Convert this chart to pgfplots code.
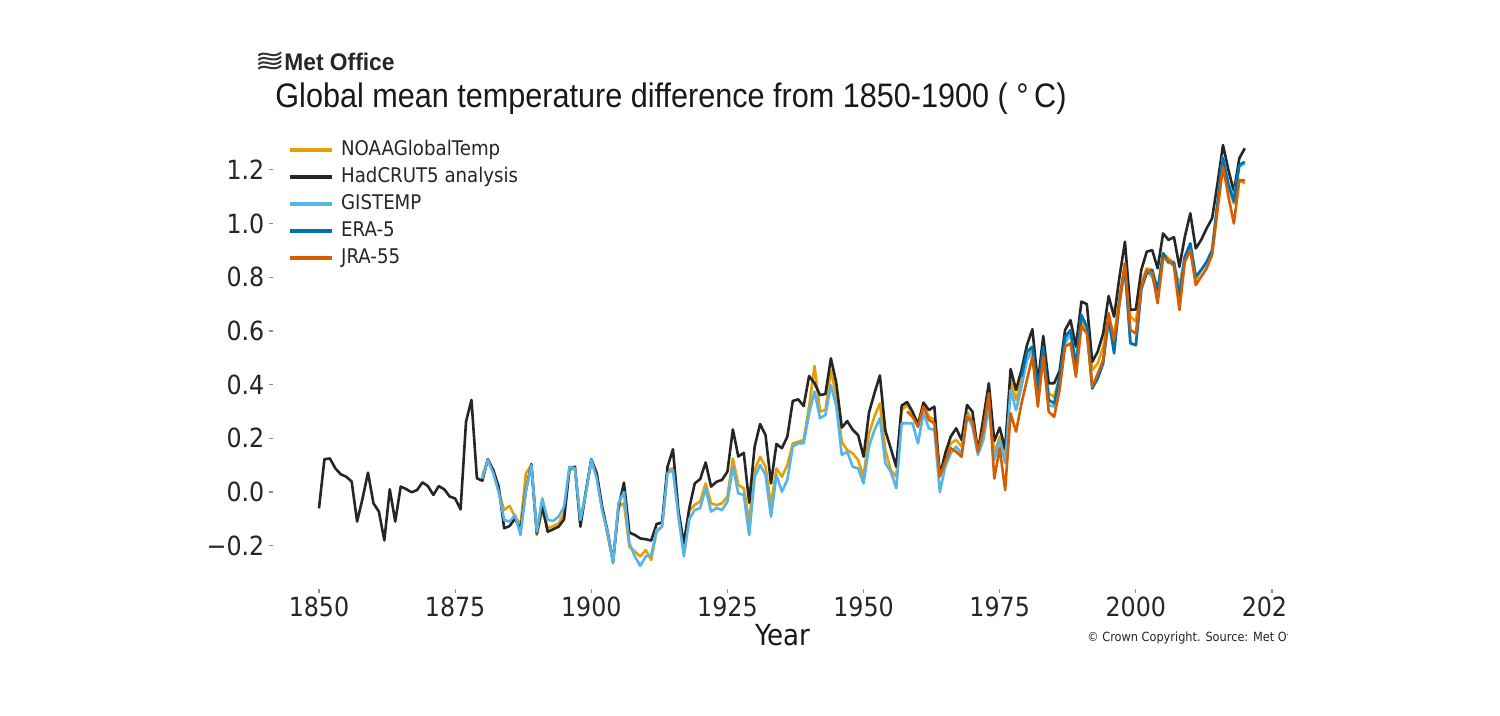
\documentclass[border=0pt]{standalone}
\usepackage{pgfplots}
\pgfplotsset{compat=1.18}
\usepackage{fontspec}
\setmainfont{DejaVu Sans}[FakeStretch=0.9]
\newfontfamily\titlefont{Liberation Sans}[FakeStretch=0.9]
\newfontfamily\logofont{Liberation Sans}[FakeStretch=0.95]
\definecolor{noaa}{HTML}{E69F00}
\definecolor{had}{HTML}{262626}
\definecolor{gis}{HTML}{56B4E9}
\definecolor{era}{HTML}{0072B2}
\definecolor{jra}{HTML}{D55E00}
\begin{document}
\begin{tikzpicture}[x=1pt,y=1pt]
\path[use as bounding box, fill=white] (0,0) rectangle (750,358);
\begin{axis}[
  at={(136.35pt,63.67pt)}, anchor=south west, scale only axis,
  width=511.9pt, height=230.9pt,
  xmin=1841.5, xmax=2029.5, ymin=-0.36, ymax=1.36,
  axis line style={draw=none},
  xtick={1850,1875,1900,1925,1950,1975,2000,2025},
  xticklabels={1850,1875,1900,1925,1950,1975,2000,2025},
  ytick={-0.2,0,0.2,0.4,0.6,0.8,1.0,1.2},
  yticklabels={−0.2,0.0,0.2,0.4,0.6,0.8,1.0,1.2},
  xtick pos=bottom, ytick pos=left,
  tick align=outside, major tick length=2pt,
  tick style={black!45, line width=0.6pt},
  ticklabel style={font=\fontsize{13.2}{15}\selectfont, text=black!85, inner sep=2pt},
  clip=false,
  every axis plot/.append style={line width=1.3pt, line join=round},
  legend style={at={(0.0149,0.9694)}, anchor=north west, draw=none, fill=none,
    inner sep=0pt, outer sep=0pt,
    font=\fontsize{10.1}{12}\selectfont, text=black!85,
    row sep=3.9pt,
    nodes={inner sep=0pt, text height=7.5pt, text depth=2pt},
    /tikz/every odd column/.append style={column sep=3.6pt}},
  legend cell align=left,
  legend image code/.code={\draw[#1, line width=2pt] (-1pt,0pt) -- (20pt,0pt);},
]
% NOAAGlobalTemp
\addplot[noaa] coordinates {
(1880,0.06)(1881,0.12)(1882,0.08)(1883,0.00)(1884,-0.067)(1885,-0.052)(1886,-0.092)(1887,-0.123)(1888,0.07)(1889,0.10)
(1890,-0.16)(1891,-0.067)(1892,-0.135)(1893,-0.127)(1894,-0.117)(1895,-0.08)(1896,0.082)(1897,0.09)(1898,-0.11)(1899,0.0)
(1900,0.11)(1901,0.06)(1902,-0.06)(1903,-0.16)(1904,-0.26)(1905,-0.055)(1906,-0.042)(1907,-0.204)(1908,-0.222)(1909,-0.24)
(1910,-0.216)(1911,-0.253)(1912,-0.148)(1913,-0.129)(1914,0.082)(1915,0.088)(1916,-0.08)(1917,-0.197)(1918,-0.07)(1919,-0.048)
(1920,-0.035)(1921,0.032)(1922,-0.042)(1923,-0.049)(1924,-0.042)(1925,-0.017)(1926,0.125)(1927,0.026)(1928,0.014)(1929,-0.11)
(1930,0.082)(1931,0.131)(1932,0.094)(1933,-0.049)(1934,0.088)(1935,0.057)(1936,0.10)(1937,0.181)(1938,0.187)(1939,0.194)
(1940,0.318)(1941,0.469)(1942,0.30)(1943,0.305)(1944,0.454)(1945,0.355)(1946,0.187)(1947,0.156)(1948,0.144)(1949,0.119)
(1950,0.057)(1951,0.218)(1952,0.281)(1953,0.33)(1954,0.156)(1955,0.082)(1956,0.057)(1957,0.305)(1958,0.324)(1959,0.293)
(1960,0.256)(1961,0.324)(1962,0.281)(1963,0.268)(1964,0.07)(1965,0.131)(1966,0.181)(1967,0.194)(1968,0.169)(1969,0.299)
(1970,0.268)(1971,0.156)(1972,0.243)(1973,0.343)(1974,0.144)(1975,0.206)(1976,0.119)(1977,0.417)(1978,0.343)(1979,0.417)
(1980,0.504)(1981,0.541)(1982,0.38)(1983,0.541)(1984,0.367)(1985,0.355)(1986,0.43)(1987,0.566)(1988,0.603)(1989,0.467)
(1990,0.635)(1991,0.603)(1992,0.454)(1993,0.479)(1994,0.541)(1995,0.653)(1996,0.578)(1997,0.727)(1998,0.852)(1999,0.653)
(2000,0.635)(2001,0.777)(2002,0.833)(2003,0.827)(2004,0.752)(2005,0.889)(2006,0.87)(2007,0.852)(2008,0.765)(2009,0.877)
(2010,0.92)(2011,0.79)(2012,0.827)(2013,0.852)(2014,0.889)(2015,1.063)(2016,1.224)(2017,1.137)(2018,1.075)(2019,1.162)
(2020,1.149)};
\addlegendentry{NOAAGlobalTemp}
% HadCRUT5
\addplot[had] coordinates {
(1850,-0.061)(1851,0.122)(1852,0.125)(1853,0.088)(1854,0.066)(1855,0.057)(1856,0.039)(1857,-0.110)(1858,-0.024)(1859,0.072)
(1860,-0.042)(1861,-0.073)(1862,-0.180)(1863,0.010)(1864,-0.110)(1865,0.020)(1866,0.011)(1867,-0.001)(1868,0.007)(1869,0.036)
(1870,0.022)(1871,-0.011)(1872,0.022)(1873,0.010)(1874,-0.017)(1875,-0.024)(1876,-0.065)(1877,0.262)(1878,0.343)(1879,0.051)
(1880,0.042)(1881,0.122)(1882,0.082)(1883,0.020)(1884,-0.135)(1885,-0.127)(1886,-0.098)(1887,-0.142)(1888,0.007)(1889,0.104)
(1890,-0.154)(1891,-0.052)(1892,-0.148)(1893,-0.139)(1894,-0.129)(1895,-0.102)(1896,0.088)(1897,0.094)(1898,-0.129)(1899,0.001)
(1900,0.122)(1901,0.070)(1902,-0.055)(1903,-0.148)(1904,-0.260)(1905,-0.057)(1906,0.035)(1907,-0.151)(1908,-0.160)(1909,-0.173)
(1910,-0.176)(1911,-0.181)(1912,-0.119)(1913,-0.114)(1914,0.094)(1915,0.159)(1916,-0.070)(1917,-0.191)(1918,-0.060)(1919,0.032)
(1920,0.048)(1921,0.110)(1922,0.020)(1923,0.038)(1924,0.045)(1925,0.076)(1926,0.233)(1927,0.132)(1928,0.146)(1929,-0.040)
(1930,0.169)(1931,0.253)(1932,0.212)(1933,0.032)(1934,0.179)(1935,0.163)(1936,0.206)(1937,0.339)(1938,0.345)(1939,0.320)
(1940,0.432)(1941,0.405)(1942,0.361)(1943,0.365)(1944,0.498)(1945,0.405)(1946,0.240)(1947,0.264)(1948,0.232)(1949,0.212)
(1950,0.132)(1951,0.296)(1952,0.368)(1953,0.434)(1954,0.228)(1955,0.162)(1956,0.094)(1957,0.322)(1958,0.335)(1959,0.299)
(1960,0.250)(1961,0.333)(1962,0.305)(1963,0.318)(1964,0.060)(1965,0.144)(1966,0.206)(1967,0.237)(1968,0.194)(1969,0.324)
(1970,0.299)(1971,0.150)(1972,0.274)(1973,0.405)(1974,0.190)(1975,0.240)(1976,0.160)(1977,0.458)(1978,0.380)(1979,0.454)
(1980,0.547)(1981,0.606)(1982,0.405)(1983,0.581)(1984,0.405)(1985,0.405)(1986,0.451)(1987,0.603)(1988,0.640)(1989,0.541)
(1990,0.709)(1991,0.700)(1992,0.485)(1993,0.523)(1994,0.591)(1995,0.730)(1996,0.653)(1997,0.802)(1998,0.932)(1999,0.678)
(2000,0.680)(2001,0.827)(2002,0.895)(2003,0.901)(2004,0.833)(2005,0.963)(2006,0.939)(2007,0.949)(2008,0.839)(2009,0.951)
(2010,1.038)(2011,0.907)(2012,0.939)(2013,0.982)(2014,1.019)(2015,1.150)(2016,1.292)(2017,1.199)(2018,1.118)(2019,1.243)
(2020,1.280)};
\addlegendentry{HadCRUT5 analysis}
% GISTEMP
\addplot[gis] coordinates {
(1880,0.05)(1881,0.12)(1882,0.07)(1883,0.0)(1884,-0.104)(1885,-0.11)(1886,-0.086)(1887,-0.16)(1888,0.007)(1889,0.1)
(1890,-0.148)(1891,-0.024)(1892,-0.104)(1893,-0.108)(1894,-0.092)(1895,-0.055)(1896,0.094)(1897,0.088)(1898,-0.104)(1899,-0.005)
(1900,0.12)(1901,0.05)(1902,-0.07)(1903,-0.15)(1904,-0.266)(1905,-0.042)(1906,0.0)(1907,-0.191)(1908,-0.24)(1909,-0.275)
(1910,-0.24)(1911,-0.235)(1912,-0.142)(1913,-0.129)(1914,0.07)(1915,0.082)(1916,-0.09)(1917,-0.24)(1918,-0.10)(1919,-0.067)
(1920,-0.06)(1921,0.014)(1922,-0.073)(1923,-0.06)(1924,-0.067)(1925,-0.036)(1926,0.094)(1927,-0.005)(1928,-0.011)(1929,-0.16)
(1930,0.057)(1931,0.10)(1932,0.063)(1933,-0.092)(1934,0.063)(1935,0.001)(1936,0.045)(1937,0.169)(1938,0.181)(1939,0.181)
(1940,0.293)(1941,0.374)(1942,0.275)(1943,0.287)(1944,0.398)(1945,0.318)(1946,0.138)(1947,0.15)(1948,0.094)(1949,0.088)
(1950,0.032)(1951,0.169)(1952,0.231)(1953,0.275)(1954,0.107)(1955,0.076)(1956,0.014)(1957,0.256)(1958,0.256)(1959,0.256)
(1960,0.181)(1961,0.293)(1962,0.237)(1963,0.231)(1964,0.0)(1965,0.094)(1966,0.144)(1967,0.169)(1968,0.144)(1969,0.286)
(1970,0.243)(1971,0.138)(1972,0.194)(1973,0.318)(1974,0.119)(1975,0.194)(1976,0.107)(1977,0.38)(1978,0.305)(1979,0.392)
(1980,0.491)(1981,0.529)(1982,0.367)(1983,0.529)(1984,0.324)(1985,0.318)(1986,0.417)(1987,0.554)(1988,0.59)(1989,0.479)
(1990,0.653)(1991,0.616)(1992,0.386)(1993,0.429)(1994,0.491)(1995,0.628)(1996,0.529)(1997,0.703)(1998,0.827)(1999,0.554)
(2000,0.547)(2001,0.752)(2002,0.821)(2003,0.802)(2004,0.733)(2005,0.883)(2006,0.852)(2007,0.858)(2008,0.752)(2009,0.87)
(2010,0.926)(2011,0.802)(2012,0.827)(2013,0.852)(2014,0.895)(2015,1.082)(2016,1.249)(2017,1.149)(2018,1.1)(2019,1.212)
(2020,1.224)};
\addlegendentry{GISTEMP}
% ERA-5
\addplot[era] coordinates {
(1979,0.43)(1980,0.523)(1981,0.541)(1982,0.38)(1983,0.541)(1984,0.343)(1985,0.33)(1986,0.43)(1987,0.578)(1988,0.603)(1989,0.467)
(1990,0.659)(1991,0.616)(1992,0.386)(1993,0.423)(1994,0.479)(1995,0.653)(1996,0.516)(1997,0.715)(1998,0.84)(1999,0.554)
(2000,0.547)(2001,0.758)(2002,0.815)(2003,0.827)(2004,0.752)(2005,0.889)(2006,0.858)(2007,0.852)(2008,0.727)(2009,0.877)
(2010,0.926)(2011,0.802)(2012,0.827)(2013,0.858)(2014,0.901)(2015,1.076)(2016,1.243)(2017,1.143)(2018,1.082)(2019,1.218)
(2020,1.23)};
\addlegendentry{ERA-5}
% JRA-55
\addplot[jra] coordinates {
(1958,0.30)(1959,0.28)(1960,0.243)(1961,0.318)(1962,0.268)(1963,0.256)(1964,0.057)(1965,0.113)(1966,0.163)(1967,0.15)(1968,0.131)(1969,0.28)
(1970,0.262)(1971,0.15)(1972,0.231)(1973,0.368)(1974,0.05)(1975,0.163)(1976,0.007)(1977,0.293)(1978,0.225)(1979,0.33)
(1980,0.417)(1981,0.504)(1982,0.318)(1983,0.504)(1984,0.299)(1985,0.28)(1986,0.38)(1987,0.541)(1988,0.554)(1989,0.429)
(1990,0.616)(1991,0.591)(1992,0.392)(1993,0.441)(1994,0.491)(1995,0.666)(1996,0.566)(1997,0.703)(1998,0.852)(1999,0.603)
(2000,0.591)(2001,0.765)(2002,0.827)(2003,0.815)(2004,0.703)(2005,0.87)(2006,0.864)(2007,0.84)(2008,0.678)(2009,0.858)
(2010,0.901)(2011,0.771)(2012,0.802)(2013,0.833)(2014,0.883)(2015,1.05)(2016,1.212)(2017,1.1)(2018,1.0)(2019,1.162)
(2020,1.16)};
\addlegendentry{JRA-55}
\end{axis}
% x label and credits
\node[font=\fontsize{14.5}{16}\selectfont, text=black!90, inner sep=0pt] at (391.5,40.5) {Year};
\node[anchor=west, inner sep=0pt, font=\fontsize{6.3}{7}\selectfont, text=black!85] at (543.5,39) {© Crown Copyright. Source: Met Office};
% title and logo
\node[anchor=base west, inner sep=0pt, font=\titlefont\fontsize{17}{19}\selectfont, text=black!90] at (137.5,304) {Global mean temperature difference from 1850-1900 ( °\,C)};
\node[anchor=base west, inner sep=0pt, font=\logofont\bfseries\fontsize{12}{14}\selectfont, text=black!85] at (142,322.5) {Met Office};
\foreach \i in {0,1,2,3} {
  \draw[black!80, line width=1pt] (129.2,323.6+2.2*\i) .. controls (132,326.6+2.2*\i) and (136.5,321.6+2.2*\i) .. (140.6,325.2+2.2*\i);
}
% crop of the original picture on the right
\fill[white] (644,0) rectangle (750,358);
\end{tikzpicture}
\end{document}
